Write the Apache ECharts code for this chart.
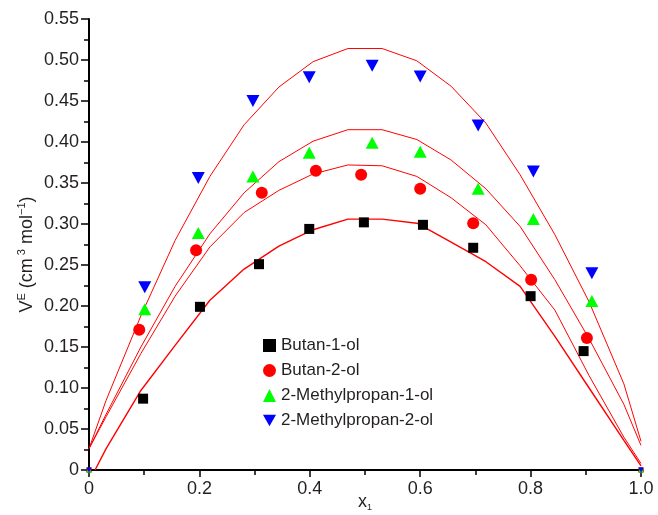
<!DOCTYPE html>
<html>
<head>
<meta charset="utf-8">
<script src="https://cdn.jsdelivr.net/npm/echarts@6/dist/echarts.min.js"></script>
<style>
  html, body { margin: 0; padding: 0; background: #fff; }
  #chart { width: 658px; height: 515px; }
</style>
</head>
<body>
<div id="chart"></div>
<script>
// measured points (x1, VE)
const butan1ol = [[0, 0], [0.098, 0.087], [0.201, 0.199], [0.308, 0.251], [0.399, 0.294], [0.498, 0.302],
  [0.605, 0.299], [0.696, 0.271], [0.800, 0.212], [0.896, 0.145], [1, 0]]
const butan2ol = [[0, 0], [0.091, 0.171], [0.194, 0.268], [0.313, 0.338], [0.411, 0.365], [0.493, 0.360],
  [0.600, 0.343], [0.696, 0.301], [0.801, 0.232], [0.902, 0.161], [1, 0]]
const methylpropan1ol = [[0, 0], [0.101, 0.196], [0.198, 0.289], [0.297, 0.358], [0.399, 0.387], [0.513, 0.399],
  [0.600, 0.388], [0.705, 0.343], [0.805, 0.306], [0.911, 0.206], [1, 0]]
const methylpropan2ol = [[0, 0], [0.101, 0.223], [0.198, 0.356], [0.297, 0.450], [0.399, 0.479], [0.513, 0.493],
  [0.600, 0.480], [0.705, 0.420], [0.805, 0.364], [0.911, 0.240], [1, 0]]

// fitted curves at their vertices
const fitX = [0, 0.031, 0.094, 0.156, 0.219, 0.281, 0.344, 0.406, 0.469,
  0.531, 0.594, 0.656, 0.719, 0.781, 0.844, 0.906, 0.969, 1]
const fitXButan1 = [0.011, 0.031, 0.094, 0.156, 0.219, 0.281, 0.344, 0.406, 0.469,
  0.531, 0.594, 0.656, 0.719, 0.781, 0.844, 0.906, 0.969, 1]
const fitButan1 = [0, 0.026, 0.097, 0.152, 0.207, 0.245, 0.273, 0.293, 0.306,
  0.306, 0.301, 0.278, 0.254, 0.224, 0.163, 0.100, 0.036, 0.005]
const fitButan2 = [0.026, 0.065, 0.142, 0.212, 0.272, 0.314, 0.341, 0.361, 0.372,
  0.371, 0.358, 0.332, 0.299, 0.249, 0.195, 0.115, 0.040, 0.008]
const fitMethyl1 = [0.026, 0.068, 0.150, 0.224, 0.288, 0.338, 0.376, 0.401, 0.415,
  0.415, 0.403, 0.378, 0.343, 0.297, 0.232, 0.160, 0.080, 0.030]
const fitMethyl2 = [0.026, 0.085, 0.188, 0.280, 0.358, 0.421, 0.467, 0.498, 0.514,
  0.514, 0.499, 0.468, 0.423, 0.360, 0.287, 0.205, 0.105, 0.035]

const textColor = '#231f20'
const fontFamily = 'Liberation Sans, Arial, sans-serif'
const downTriangle = 'path://M0,0 L10,0 L5,9 Z'

const pairs = (xs, ys) => ys.map((y, i) => [xs[i], y])

const fitLine = (name, data, width) => ({
  name: name,
  type: 'line',
  data: data,
  symbol: 'none',
  smooth: false,
  silent: true,
  z: 1,
  lineStyle: { color: '#ff0000', width: width || 1 },
})

// the end points at VE = 0 are mostly hidden behind the axes in the original
const points = (name, data, symbol, size, color) => ({
  name: name,
  type: 'scatter',
  data: data,
  symbol: symbol,
  symbolSize: v => (v[1] === 0 ? 5 : size),
  itemStyle: { color: color, opacity: 1 },
  z: 3,
})

const option = {
  animation: false,
  grid: { left: 89, right: 17, top: 19, bottom: 45, outerBoundsMode: 'none' },
  legend: {
    orient: 'vertical',
    left: 258,
    top: 332,
    itemWidth: 13,
    itemHeight: 13,
    itemGap: 8,
    textStyle: { fontSize: 17, color: textColor, fontFamily: fontFamily },
    data: [
      { name: 'Butan-1-ol', icon: 'rect' },
      { name: 'Butan-2-ol', icon: 'circle' },
      { name: '2-Methylpropan-1-ol', icon: 'triangle' },
      { name: '2-Methylpropan-2-ol', icon: downTriangle },
    ],
  },
  xAxis: {
    type: 'value',
    min: 0,
    max: 1,
    interval: 0.2,
    name: '{a|x}{b|1}',
    nameLocation: 'middle',
    nameGap: 22,
    nameMoveOverlap: false,
    nameTextStyle: {
      rich: {
        a: { fontSize: 18, color: textColor, fontFamily: fontFamily, lineHeight: 20, verticalAlign: 'middle' },
        b: { fontSize: 9, color: textColor, fontFamily: fontFamily, lineHeight: 10, verticalAlign: 'bottom' },
      },
    },
    axisLine: { onZero: false, lineStyle: { color: '#000', width: 2 } },
    axisTick: { length: 7, lineStyle: { color: '#000', width: 1.5 } },
    minorTick: { show: true, splitNumber: 2, length: 5, lineStyle: { color: '#000', width: 1.5 } },
    splitLine: { show: false },
    axisLabel: {
      fontSize: 18, color: textColor, fontFamily: fontFamily, margin: 10,
      formatter: v => (v === 0 ? '0' : v.toFixed(1)),
    },
  },
  yAxis: {
    type: 'value',
    min: 0,
    max: 0.55,
    interval: 0.05,
    name: '{a|V}{s|E}{a| (cm}{s| 3}{a| mol}{s|−1}{a|)}',
    nameLocation: 'middle',
    nameGap: 51,
    nameMoveOverlap: false,
    nameTextStyle: {
      padding: [0, 20, 0, 0],
      rich: {
        a: { fontSize: 18, color: textColor, fontFamily: fontFamily, lineHeight: 22, verticalAlign: 'middle' },
        s: { fontSize: 11, color: textColor, fontFamily: fontFamily, lineHeight: 12, verticalAlign: 'top' },
      },
    },
    axisLine: { show: true, lineStyle: { color: '#000', width: 2 } },
    axisTick: { show: true, length: 8, lineStyle: { color: '#000', width: 1.5 } },
    minorTick: { show: true, splitNumber: 2, length: 5, lineStyle: { color: '#000', width: 1.5 } },
    splitLine: { show: false },
    axisLabel: {
      fontSize: 18, color: textColor, fontFamily: fontFamily, margin: 10,
      formatter: v => (v === 0 ? '0' : v.toFixed(2)),
    },
  },
  series: [
    fitLine('fit-butan-1-ol', pairs(fitXButan1, fitButan1), 1.4),
    fitLine('fit-butan-2-ol', pairs(fitX, fitButan2)),
    fitLine('fit-2-methylpropan-1-ol', pairs(fitX, fitMethyl1)),
    fitLine('fit-2-methylpropan-2-ol', pairs(fitX, fitMethyl2)),
    points('Butan-1-ol', butan1ol, 'rect', 10, '#000000'),
    points('Butan-2-ol', butan2ol, 'circle', 12, '#ff0000'),
    points('2-Methylpropan-1-ol', methylpropan1ol, 'triangle', [13, 12], '#00ff00'),
    points('2-Methylpropan-2-ol', methylpropan2ol, downTriangle, [13, 12], '#0000ff'),
  ],
}

echarts.init(document.getElementById('chart')).setOption(option)
</script>
</body>
</html>
